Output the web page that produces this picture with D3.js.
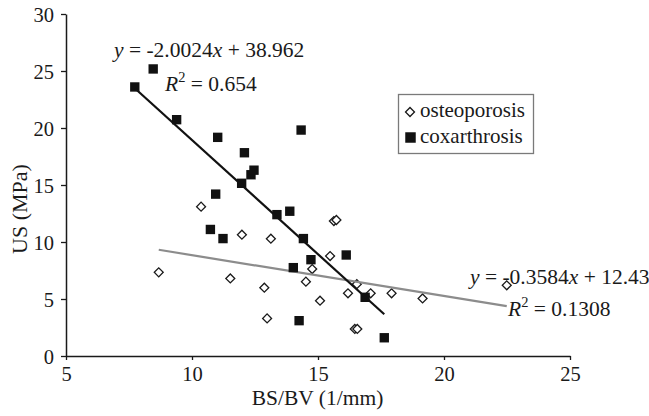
<!DOCTYPE html>
<html><head><meta charset="utf-8">
<script src="https://cdn.jsdelivr.net/npm/d3@7"></script>
<style>
html,body{margin:0;padding:0;background:#fff;}
svg{display:block;font-family:"Liberation Serif","Times New Roman",serif;}
</style></head>
<body><svg id="c" width="649" height="416"></svg>
<script>
// ---- data ----
const osteoX = [8.68, 10.36, 11.52, 11.98, 12.87, 12.98, 13.13, 14.77, 14.52, 15.08, 15.48, 15.63, 15.73, 16.19, 16.54, 17.09, 17.92, 19.15, 22.49, 16.46, 16.56];
const osteoY = [7.34, 13.1, 6.8, 10.64, 5.99, 3.3, 10.29, 7.63, 6.52, 4.85, 8.77, 11.84, 11.93, 5.5, 6.3, 5.5, 5.5, 5.05, 6.2, 2.37, 2.37];
const coxX = [7.73, 8.46, 9.39, 11.02, 12.08, 11.97, 12.34, 12.46, 14.33, 10.94, 10.73, 11.23, 13.37, 13.88, 14.42, 14.72, 14.02, 14.25, 16.12, 16.87, 17.63];
const coxY = [23.6, 25.18, 20.73, 19.18, 17.83, 15.15, 15.9, 16.3, 19.82, 14.2, 11.1, 10.3, 12.4, 12.7, 10.3, 8.45, 7.75, 3.1, 8.86, 5.15, 1.6];
const seriesNames = ["osteoporosis", "coxarthrosis"];
const coxFit = [-2.0024, 38.962];   // slope, intercept
const coxR2 = "0.654";
const osteoFit = [-0.3584, 12.43];
const osteoR2 = "0.1308";
const xTicks = [5, 10, 15, 20, 25];
const yTicks = [0, 5, 10, 15, 20, 25, 30];
const xTitle = "BS/BV (1/mm)";
const yTitle = "US (MPa)";

// ---- layout ----
const svg = d3.select("#c");
const x = d3.scaleLinear().domain([5, 25]).range([66, 570]);
const y = d3.scaleLinear().domain([0, 30]).range([356, 14]);
const ink = "#1a1a1a";

// axes
const gx = svg.append("g").attr("transform", `translate(0,${y(0)})`)
  .call(d3.axisBottom(x).tickValues(xTicks).tickSize(4).tickSizeOuter(0).tickPadding(7.5));
const gy = svg.append("g").attr("transform", `translate(${x(5)},0)`)
  .call(d3.axisLeft(y).tickValues(yTicks).tickSize(5).tickSizeOuter(0).tickPadding(7));
[gx, gy].forEach(g => {
  g.select(".domain").attr("stroke", ink).attr("stroke-width", 1.5);
  g.selectAll(".tick line").attr("stroke", ink).attr("stroke-width", 1.3);
  g.selectAll(".tick text").attr("fill", ink).style("font-size", "20.5px")
    .style("font-family", '"Liberation Serif",serif');
});
gx.selectAll(".tick text").attr("dy", "0.68em");
gy.selectAll(".tick text").attr("dy", "0.36em");

svg.append("text").attr("x", 317.5).attr("y", 405).attr("text-anchor", "middle")
  .attr("fill", ink).style("font-size", "21.5px").text(xTitle);
svg.append("text").attr("transform", "translate(27,209) rotate(-90)").attr("text-anchor", "middle")
  .attr("fill", ink).style("font-size", "22px").text(yTitle);

// trend lines
function fitLine(xs, fit, color) {
  const x0 = d3.min(xs), x1 = d3.max(xs);
  svg.append("line")
    .attr("x1", x(x0)).attr("y1", y(fit[0] * x0 + fit[1]))
    .attr("x2", x(x1)).attr("y2", y(fit[0] * x1 + fit[1]))
    .attr("stroke", color).attr("stroke-width", 2.2);
}

// points
const diamond = d3.symbol().type(d3.symbolSquare).size(40)();
const square = d3.symbol().type(d3.symbolSquare).size(88)();

svg.append("g").selectAll("path").data(osteoX.map((v, i) => [v, osteoY[i]])).join("path")
  .attr("d", diamond)
  .attr("transform", d => `translate(${x(d[0])},${y(d[1])}) rotate(45)`)
  .attr("fill", "#fff").attr("stroke", ink).attr("stroke-width", 1.3);

fitLine(osteoX, osteoFit, "#8c8c8c");

svg.append("g").selectAll("path").data(coxX.map((v, i) => [v, coxY[i]])).join("path")
  .attr("d", square)
  .attr("transform", d => `translate(${x(d[0])},${y(d[1])})`)
  .attr("fill", "#111");

fitLine(coxX, coxFit, "#111");

// equations
function eq(xp, yp, fit, r2, rx, ry) {
  const t = svg.append("text").attr("x", xp).attr("y", yp).attr("fill", ink).style("font-size", "21.5px");
  t.append("tspan").style("font-style", "italic").text("y");
  t.append("tspan").text(" = " + fit[0] + "");
  t.append("tspan").style("font-style", "italic").text("x");
  t.append("tspan").text(" + " + fit[1]);
  const r = svg.append("text").attr("x", rx).attr("y", ry).attr("fill", ink).style("font-size", "21.5px");
  r.append("tspan").style("font-style", "italic").text("R");
  r.append("tspan").attr("dy", "-0.6em").style("font-size", "14.5px").text("2");
  r.append("tspan").attr("dy", "0.4em").text(" = " + r2);
}
eq(114, 57, coxFit, coxR2, 165, 91);
eq(470, 284, osteoFit, osteoR2, 508, 316);

// legend
svg.append("rect").attr("x", 398.5).attr("y", 94.5).attr("width", 135).attr("height", 59)
  .attr("fill", "#fff").attr("stroke", "#7a7a7a").attr("stroke-width", 1.3);
svg.append("path").attr("d", diamond).attr("transform", "translate(410,112) rotate(45)")
  .attr("fill", "#fff").attr("stroke", ink).attr("stroke-width", 1.3);
svg.append("path").attr("d", d3.symbol().type(d3.symbolSquare).size(110)())
  .attr("transform", "translate(410.5,137.5)").attr("fill", "#111");
svg.append("text").attr("x", 420).attr("y", 117).attr("fill", ink).style("font-size", "21px").text(seriesNames[0]);
svg.append("text").attr("x", 420).attr("y", 143).attr("fill", ink).style("font-size", "21px").text(seriesNames[1]);
</script></body></html>
